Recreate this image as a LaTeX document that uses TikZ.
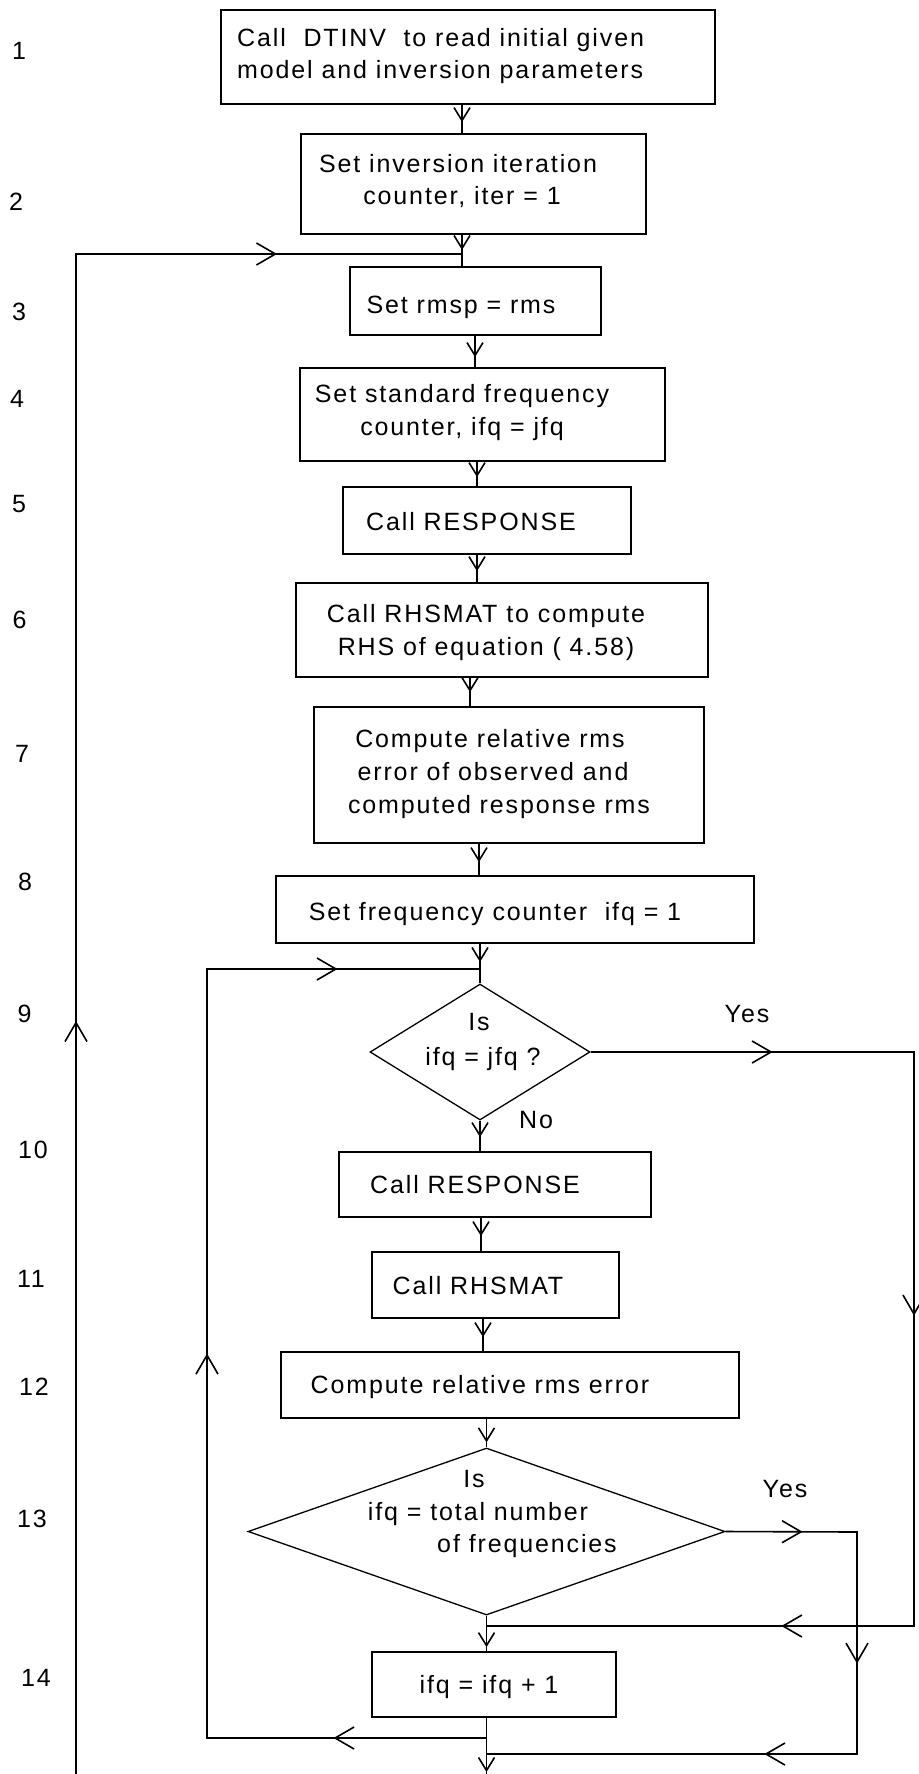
\documentclass[tikz,border=0pt]{standalone}
\usepackage{fontspec}
\setmainfont{Liberation Sans}[LetterSpace=7.5]
\usetikzlibrary{arrows.meta,shapes.geometric,decorations.markings}

\tikzset{
  vb/.tip={Straight Barb[length=13pt,width=16pt]},
  hb/.tip={Straight Barb[length=19pt,width=22pt]},
  box/.style={draw, rectangle, line width=1.8pt, inner sep=0pt},
  dia/.style={draw, diamond, line width=1.3pt, inner sep=0pt},
  txt/.style={font=\fontsize{25}{30}\selectfont, inner sep=0pt, anchor=base},
  flow/.style={draw, line width=1.6pt},
  vtip/.style={postaction={decorate, decoration={markings,
      mark=at position #1 with {\arrow[line width=1.6pt]{vb}}}}},
  htip/.style={postaction={decorate, decoration={markings,
      mark=at position #1 with {\arrow[line width=1.6pt]{hb}}}}},
}

\begin{document}
\begin{tikzpicture}[x=1pt, y=-1pt]
\useasboundingbox (0,0) rectangle (918,1774);

% step numbers
\node[txt] (n1)  at (19,60)    {1};
\node[txt] (n2)  at (16,210)   {2};
\node[txt] (n3)  at (19,320)   {3};
\node[txt] (n4)  at (17,407)   {4};
\node[txt] (n5)  at (19,512)   {5};
\node[txt] (n6)  at (19.5,628) {6};
\node[txt] (n7)  at (22,762)   {7};
\node[txt] (n8)  at (25,890)   {8};
\node[txt] (n9)  at (24.5,1022){9};
\node[txt] (n10) at (33,1158)  {10};
\node[txt] (n11) at (31,1287)  {11};
\node[txt] (n12) at (34,1395)  {12};
\node[txt] (n13) at (32,1527)  {13};
\node[txt] (n14) at (36,1686)  {14};

% process boxes
\node[box, minimum width=494pt, minimum height=94pt]  (b1)  at (468,57)     {};
\node[box, minimum width=345pt, minimum height=100pt] (b2)  at (473.5,184)  {};
\node[box, minimum width=251pt, minimum height=68pt]  (b3)  at (475.5,301)  {};
\node[box, minimum width=365pt, minimum height=93pt]  (b4)  at (482.5,414.5){};
\node[box, minimum width=288pt, minimum height=67pt]  (b5)  at (487,520.5)  {};
\node[box, minimum width=412pt, minimum height=94pt]  (b6)  at (502,630)    {};
\node[box, minimum width=390pt, minimum height=136pt] (b7)  at (509,775)    {};
\node[box, minimum width=478pt, minimum height=67pt]  (b8)  at (515,909.5)  {};
\node[dia, minimum width=220pt, minimum height=136pt] (d1)  at (480,1052)   {};
\node[box, minimum width=312pt, minimum height=65pt]  (b10) at (495,1184.5) {};
\node[box, minimum width=247pt, minimum height=66pt]  (b11) at (495.5,1285) {};
\node[box, minimum width=458pt, minimum height=66pt]  (b12) at (510,1385)   {};
\node[dia, minimum width=477pt, minimum height=167pt] (d2)  at (486.5,1531.5){};
\node[box, minimum width=244pt, minimum height=65pt]  (b14) at (494,1684.5) {};

% box texts
\node[txt, anchor=base west] (t1a) at (237,47) {Call\ \ DTINV\ \ to read initial given};
\node[txt, anchor=base west] (t1b) at (237,79) {model and inversion parameters};
\node[txt] (t2a) at (458,172) {Set inversion iteration};
\node[txt] (t2b) at (462,204) {counter, iter = 1};
\node[txt] (t3)  at (461,313) {Set rmsp = rms};
\node[txt] (t4a) at (462,402) {Set standard frequency};
\node[txt] (t4b) at (462,435) {counter, ifq = jfq};
\node[txt] (t5)  at (471,530) {Call RESPONSE};
\node[txt] (t6a) at (486,622) {Call RHSMAT to compute};
\node[txt] (t6b) at (486,655) {RHS of equation ( 4.58)};
\node[txt] (t7a) at (490,747) {Compute relative rms};
\node[txt] (t7b) at (493,780) {error of observed and};
\node[txt] (t7c) at (499,813) {computed response rms};
\node[txt] (t8)  at (495,920) {Set frequency counter\ \ ifq = 1};
\node[txt] (t9a) at (479,1030) {Is};
\node[txt] (t9b) at (483,1065) {ifq = jfq ?};
\node[txt] (tno) at (536,1128) {No};
\node[txt] (tyes1) at (747,1022) {Yes};
\node[txt] (t10) at (475,1193) {Call RESPONSE};
\node[txt] (t11) at (478,1294) {Call RHSMAT};
\node[txt] (t12) at (480,1393) {Compute relative rms error};
\node[txt] (t13a) at (474,1487) {Is};
\node[txt] (t13b) at (478,1520) {ifq = total number};
\node[txt] (t13c) at (527,1552) {of frequencies};
\node[txt] (tyes2) at (785,1497) {Yes};
\node[txt] (t14) at (489,1693) {ifq = ifq + 1};

% connector columns and junctions
\coordinate (c1)  at (462,0);
\coordinate (c3)  at (475,0);
\coordinate (c4)  at (477,0);
\coordinate (c6)  at (470,0);
\coordinate (c7)  at (479,0);
\coordinate (c10) at (481,0);
\coordinate (c11) at (483,0);
\coordinate (jTop) at (462,254);
\coordinate (oTop) at (76,254);
\coordinate (oBot) at (76,1780);
\coordinate (jIn)  at (480,969);
\coordinate (iTop) at (207,969);
\coordinate (iBot) at (207,1738);
\coordinate (jLow) at (486.5,1738);
\coordinate (y1a)  at (914,1052);
\coordinate (y1b)  at (914,1626);
\coordinate (jY1)  at (486.5,1626);
\coordinate (y2a)  at (857,1532);
\coordinate (y2b)  at (857,1754);
\coordinate (jY2)  at (486.5,1754);
\coordinate (exitB) at (486.5,1778);

% main flow
\draw[flow, vtip=-11pt] (b1.south -| c1) -- (b2.north -| c1);
\draw[flow, vtip=-4pt]  (b2.south -| c1) -- (jTop);
\draw[flow] (jTop) -- (b3.north -| c1);
\draw[flow, vtip=-10pt] (b3.south -| c3) -- (b4.north -| c3);
\draw[flow, vtip=-9pt]  (b4.south -| c4) -- (b5.north -| c4);
\draw[flow, vtip=-11pt] (b5.south -| c4) -- (b6.north -| c4);
\draw[flow, vtip=-14pt] (b6.south -| c6) -- (b7.north -| c6);
\draw[flow, vtip=-13pt] (b7.south -| c7) -- (b8.north -| c7);
\draw[flow, vtip=-7pt]  (b8.south -| jIn) -- (jIn);
\draw[flow] (jIn) -- (d1.north);
\draw[flow, vtip=-14pt] (d1.south) -- (b10.north -| d1.south);
\draw[flow, vtip=-15pt] (b10.south -| c10) -- (b11.north -| c10);
\draw[flow, vtip=-14pt] (b11.south -| c11) -- (b12.north -| c11);
\draw[flow, vtip=-5pt]  (b12.south -| d2.north) -- (d2.north);
\draw[flow, vtip=-4pt]  (d2.south) -- (b14.north -| d2.south);
\draw[flow, vtip=-6pt]  (b14.south -| exitB) -- (exitB);

% outer iteration loop
\draw[flow, htip=759pt, htip=1727pt] (oBot) -- (oTop) -- (jTop);

% inner frequency loop
\draw[flow, htip=153pt, htip=664pt, htip=1179pt] (jLow) -- (iBot) -- (iTop) -- (jIn);

% Yes branches
\draw[flow, htip=182pt, htip=587pt, htip=1030pt] (d1.east) -- (y1a) -- (y1b) -- (jY1);
\draw[flow, htip=77pt, htip=263pt, htip=446pt] (d2.east) -- (y2a) -- (y2b) -- (jY2);

\end{tikzpicture}
\end{document}
